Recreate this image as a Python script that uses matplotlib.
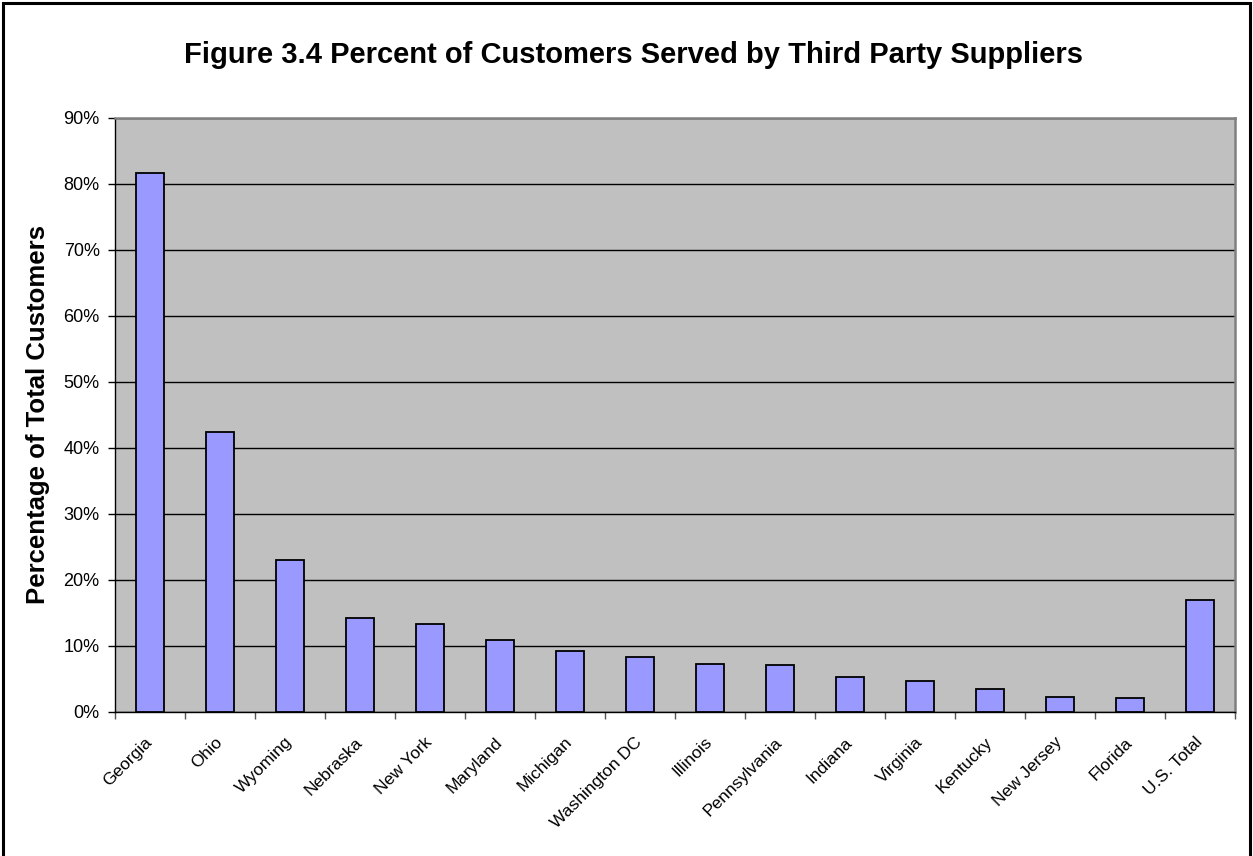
import matplotlib.pyplot as plt
from matplotlib.patches import Rectangle
from matplotlib.ticker import MultipleLocator, FuncFormatter
from matplotlib.transforms import ScaledTranslation

# Datos
states = ["Georgia", "Ohio", "Wyoming", "Nebraska", "New York", "Maryland",
          "Michigan", "Washington DC", "Illinois", "Pennsylvania", "Indiana",
          "Virginia", "Kentucky", "New Jersey", "Florida", "U.S. Total"]
percent = [81.6, 42.4, 23.1, 14.2, 13.4, 10.9, 9.3, 8.4, 7.3, 7.1, 5.35,
           4.7, 3.5, 2.2, 2.1, 16.9]

plt.rcParams['font.family'] = ['Liberation Sans', 'DejaVu Sans']

fig = plt.figure(figsize=(12.53, 8.56), dpi=100)
ax = fig.add_axes([115 / 1253, 144 / 856, 1120 / 1253, 594 / 856])

# Marco exterior
fig.patches.append(Rectangle((3 / 1253, -0.05), 1247 / 1253, 1.05 - 3 / 856,
                             transform=fig.transFigure, fill=False,
                             edgecolor='black', linewidth=2.2))

x = list(range(len(states)))
ax.set_facecolor('#C0C0C0')
ax.bar(x, percent, width=0.4, color='#9999FF', edgecolor='black',
       linewidth=1.3, zorder=3)

ax.set_xlim(-0.5, len(states) - 0.5)
ax.set_ylim(0, 90)
ax.yaxis.set_major_locator(MultipleLocator(10))
ax.yaxis.set_major_formatter(FuncFormatter(lambda v, p: f"{int(v)}%"))
ax.grid(axis='y', color='black', linewidth=1.0, zorder=1)

# Marcas del eje x entre categorias
ax.set_xticks([i - 0.5 for i in range(len(states) + 1)])
ax.set_xticklabels([])
ax.set_xticks(x, minor=True)
labels = ax.set_xticklabels(states, minor=True, rotation=45, ha='right',
                            va='center', rotation_mode='anchor', fontsize=12.5)
shift = ScaledTranslation(-6 / 100, 0, fig.dpi_scale_trans)
for lab in labels:
    lab.set_transform(lab.get_transform() + shift)
ax.tick_params(axis='x', which='minor', length=0, pad=20)
ax.tick_params(axis='x', which='major', length=5, width=1, color='#555555')
ax.tick_params(axis='y', length=5, width=1, labelsize=13, pad=6)

for s in ['top', 'right']:
    ax.spines[s].set_color('#808080')
    ax.spines[s].set_linewidth(1.8)
for s in ['left', 'bottom']:
    ax.spines[s].set_color('black')
    ax.spines[s].set_linewidth(1.0)

ax.set_ylabel("Percentage of Total Customers", fontsize=18.5, fontweight='bold',
              labelpad=10)
fig.text(633 / 1253, 1 - 55 / 856, "Figure 3.4 Percent of Customers Served by Third Party Suppliers",
         ha='center', va='center', fontsize=21, fontweight='bold')

fig.savefig("out.png", dpi=100)
